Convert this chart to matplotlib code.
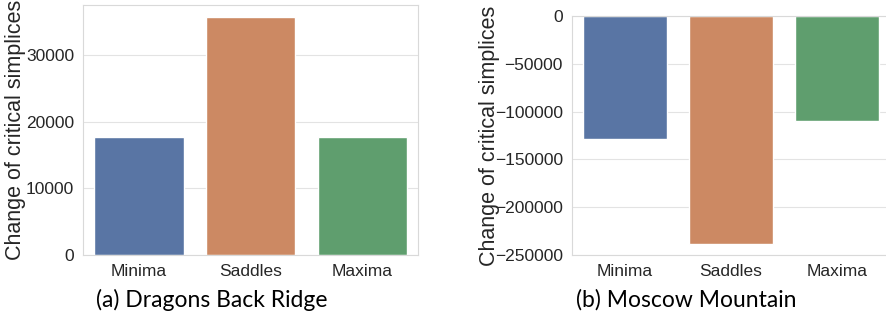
import matplotlib
matplotlib.use("Agg")
import matplotlib.pyplot as plt
import seaborn as sns

categories = ["Minima", "Saddles", "Maxima"]
dragons_back = [17800, 35800, 17700]
moscow_mountain = [-128700, -238100, -109800]

sns.set_style("whitegrid", {"grid.color": "#e3e3e3", "axes.edgecolor": "#d9d9d9"})
plt.rcParams["font.family"] = ["Liberation Sans", "DejaVu Sans"]

fig = plt.figure(figsize=(8.87, 3.21), dpi=100)
ax_a = fig.add_axes([0.0936, 0.2056, 0.3777, 0.7788])
ax_b = fig.add_axes([0.6449, 0.2056, 0.3585, 0.7445])

for ax, vals in [(ax_a, dragons_back), (ax_b, moscow_mountain)]:
    sns.barplot(x=categories, y=vals, hue=categories, palette="deep",
                legend=False, ax=ax)
    ax.set_ylabel("Change of critical simplices", fontsize=15.5, color="#262626",
                  va="center")
    ax.tick_params(axis="both", labelsize=12.5, colors="#262626", pad=3)
    ax.set_xlabel("")

ax_a.yaxis.set_label_coords(-0.203, 0.5)
ax_b.yaxis.set_label_coords(-0.261, 0.5)

ax_a.set_ylim(0, max(dragons_back) * 1.05)
ax_a.set_yticks([0, 10000, 20000, 30000])
ax_b.set_ylim(min(moscow_mountain) * 1.05, 0)
ax_b.set_yticks([0, -50000, -100000, -150000, -200000, -250000])

fig.text(0.2387, 0.065, "(a) Dragons Back Ridge", ha="center", va="center",
         fontsize=16.5, family="Lato", color="black")
fig.text(0.7734, 0.065, "(b) Moscow Mountain", ha="center", va="center",
         fontsize=16.5, family="Lato", color="black")

fig.savefig("out.png", dpi=100)
